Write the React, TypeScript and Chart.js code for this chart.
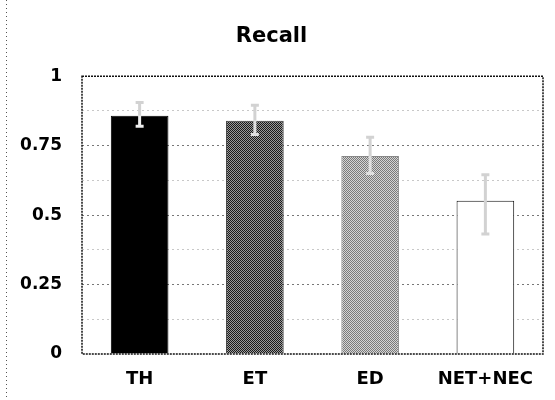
import React, { useEffect, useRef } from "react";
import { Chart, registerables } from "chart.js";

Chart.register(...registerables);

const categories = ["TH", "ET", "ED", "NET+NEC"];
const recall = [0.858, 0.84, 0.713, 0.552];
const errLow = [0.82, 0.79, 0.65, 0.432];
const errHigh = [0.905, 0.895, 0.78, 0.645];
const yTickLabels: Record<string, string> = { "0": "0", "0.25": "0.25", "0.5": "0.5", "0.75": "0.75", "1": "1" };
const titleText = "Recall";

function checker(a: string, b: string): CanvasPattern | string {
  const c = document.createElement("canvas");
  c.width = 2;
  c.height = 2;
  const ctx = c.getContext("2d");
  if (!ctx) return a;
  ctx.fillStyle = a;
  ctx.fillRect(0, 0, 2, 2);
  ctx.fillStyle = b;
  ctx.fillRect(0, 0, 1, 1);
  ctx.fillRect(1, 1, 1, 1);
  const p = ctx.createPattern(c, "repeat");
  return p || a;
}

const framePlugin = {
  id: "frame",
  afterDatasetsDraw(chart: any) {
    const { ctx, chartArea, scales } = chart;
    const xs = scales.x;
    const ys = scales.y;
    ctx.save();
    // error bars
    for (let i = 0; i < categories.length; i++) {
      const x = xs.getPixelForValue(i);
      const yL = ys.getPixelForValue(errLow[i]);
      const yH = ys.getPixelForValue(errHigh[i]);
      const yV = ys.getPixelForValue(recall[i]);
      ctx.lineWidth = 3;
      ctx.strokeStyle = "#d2d2d2";
      ctx.beginPath();
      ctx.moveTo(x, yH);
      ctx.lineTo(x, yV);
      ctx.moveTo(x - 4, yH);
      ctx.lineTo(x + 4, yH);
      ctx.stroke();
      ctx.strokeStyle = i === 0 ? "#eeeeee" : i === 3 ? "#d2d2d2" : "#e0e0e0";
      ctx.beginPath();
      ctx.moveTo(x, yV);
      ctx.lineTo(x, yL);
      ctx.moveTo(x - 4, yL);
      ctx.lineTo(x + 4, yL);
      ctx.stroke();
    }
    // plot frame
    ctx.strokeStyle = "#111";
    ctx.lineWidth = 1.5;
    ctx.setLineDash([2, 1]);
    ctx.strokeRect(chartArea.left, chartArea.top, chartArea.right - chartArea.left, chartArea.bottom - chartArea.top);
    // left page edge dotted line
    ctx.lineWidth = 1;
    ctx.strokeStyle = "#555";
    ctx.setLineDash([1, 3]);
    ctx.beginPath();
    ctx.moveTo(6.5, 0);
    ctx.lineTo(6.5, chart.height);
    ctx.stroke();
    ctx.restore();
  },
};

export default function App() {
  const ref = useRef<HTMLCanvasElement>(null);
  useEffect(() => {
    if (!ref.current) return;
    const etFill = checker("#9a9a9a", "#1a1a1a");
    const edFill = checker("#d4d4d4", "#7a7a7a");
    const chart = new Chart(ref.current, {
      type: "bar",
      data: {
        labels: categories,
        datasets: [
          {
            data: recall,
            backgroundColor: ["#000000", etFill as any, edFill as any, "#ffffff"],
            borderColor: ["#000000", "#333333", "#888888", "#111111"],
            borderWidth: 1,
            barPercentage: 0.5,
            categoryPercentage: 1,
          },
        ],
      },
      options: {
        responsive: false,
        animation: false,
        layout: { padding: { left: 0, right: 12, top: 0, bottom: 0 } },
        plugins: {
          legend: { display: false },
          tooltip: { enabled: false },
          title: {
            display: true,
            text: titleText,
            color: "#000",
            font: { family: "DejaVu Sans", size: 21, weight: "bold", lineHeight: 1.2 },
            padding: { top: 24, bottom: 27 },
          },
        },
        scales: {
          x: {
            grid: { display: false, drawTicks: false },
            border: { display: false },
            ticks: {
              color: "#000",
              font: { family: "DejaVu Sans", size: 18, weight: "bold" },
              padding: 15,
              maxRotation: 0,
            },
            afterFit(scale: any) {
              scale.height = 46;
            },
          },
          y: {
            min: 0,
            max: 1,
            border: { display: false, dash: [2, 3] },
            grid: {
              drawTicks: false,
              lineWidth: 1,
              color: (ctx: any) => {
                const v = ctx.tick ? ctx.tick.value : 0;
                if (v <= 0 || v >= 1) return "rgba(0,0,0,0)";
                const major = Math.abs(v * 4 - Math.round(v * 4)) < 1e-6;
                return major ? "#777" : "#c8c8c8";
              },
            },
            ticks: {
              stepSize: 0.125,
              autoSkip: false,
              color: "#000",
              padding: 20,
              font: { family: "DejaVu Sans", size: 17, weight: "bold" },
              callback: (v: any) => {
                const key = String(Math.round(Number(v) * 1000) / 1000);
                return yTickLabels[key] ?? "";
              },
            },
            afterFit(scale: any) {
              scale.width = 82;
            },
          },
        },
      },
      plugins: [framePlugin],
    });
    return () => chart.destroy();
  }, []);
  return (
    <div style={{ position: "fixed", left: 0, top: 0, width: 555, height: 400, background: "#fff" }}>
      <canvas ref={ref} width={555} height={400} style={{ display: "block" }} />
    </div>
  );
}
